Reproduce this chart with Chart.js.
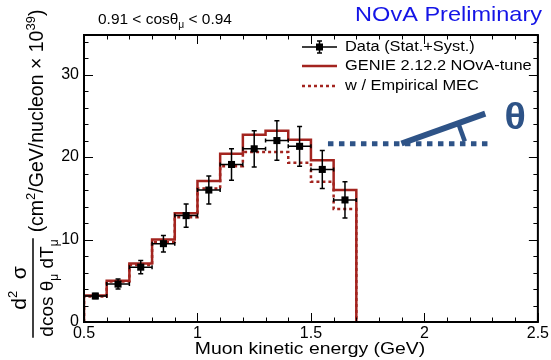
<!DOCTYPE html>
<html><head><meta charset="utf-8">
<script src="https://cdn.jsdelivr.net/npm/chart.js@4.4.0/dist/chart.umd.min.js"></script>
<style>html,body{margin:0;padding:0;background:#fff;}#wrap{width:551px;height:360px;}</style>
</head><body><div id="wrap"><canvas id="c" width="551" height="360"></canvas></div>
<script>
// ---- data ----
const binEdges = [0.5,0.6,0.7,0.8,0.9,1.0,1.1,1.2,1.3,1.4,1.5,1.6,1.7];
const genieValues = [3.2,5.0,7.1,10.0,13.2,17.1,20.4,22.7,23.2,22.1,19.6,16.0];
const mecValues   = [3.1,4.9,6.9,9.7,12.7,16.2,18.9,20.6,20.6,19.3,17.0,13.7];
const dataCenters = [0.55,0.65,0.75,0.85,0.95,1.05,1.15,1.25,1.35,1.45,1.55,1.65];
const dataValues  = [3.15,4.6,6.65,9.5,12.9,16.0,19.1,21.0,22.0,21.3,18.5,14.8];
const dataErrors  = [0.3,0.6,0.8,1.0,1.4,1.7,1.9,2.2,2.4,2.4,2.3,2.2];
const xTickValues = [0.5,1,1.5,2,2.5];
const xTickLabels = ['0.5','1','1.5','2','2.5'];
const yTickValues = [0,10,20,30];
const yTickLabels = ['0','10','20','30'];
// decoration (angle sketch) in data coordinates
const beamLine  = [{x:1.575,y:21.6},{x:2.30,y:21.6}];
const muonLine  = [{x:1.899,y:21.64},{x:2.268,y:25.27}];
const angleMark = [{x:2.149,y:24.1},{x:2.178,y:21.9}];
const thetaPos  = {x:2.40,y:24.6};

const RED = '#a3241f', BLUE = '#2e5387';
const FONT = "'Liberation Sans', Arial, Helvetica, sans-serif";
const SX = 1.17; // horizontal stretch of text in the reference

function histPoints(vals){
  const pts=[{x:binEdges[0],y:0}];
  vals.forEach((v,i)=>pts.push({x:binEdges[i],y:v}));
  pts.push({x:binEdges[binEdges.length-1],y:0});
  return pts;
}
const halfWidth = (binEdges[1]-binEdges[0])/2;

function rotText(ctx, parts, startY, baseX){
  ctx.save(); ctx.translate(baseX,startY); ctx.rotate(-Math.PI/2);
  let u=0;
  for(const p of parts){ ctx.font=p.font; ctx.fillText(p.t,u,p.dy||0); u+=ctx.measureText(p.t).width; }
  ctx.restore(); return u;
}
function measureParts(ctx, parts){ let w=0; for(const p of parts){ctx.font=p.font; w+=ctx.measureText(p.t).width;} return w; }
function hText(ctx, parts, x, y, sx, align){
  const w = measureParts(ctx,parts)*sx;
  let x0 = align==='center'? x-w/2 : align==='right'? x-w : x;
  ctx.save(); ctx.translate(x0,y); ctx.scale(sx,1); ctx.textAlign='left';
  let u=0; for(const p of parts){ ctx.font=p.font; ctx.fillText(p.t,u,(p.dy||0)); u+=ctx.measureText(p.t).width; }
  ctx.restore();
}

const ink = {
  id:'ink',
  beforeDatasetDraw(chart,args){
    if(args.index!==0) return;
    const {ctx, scales:{x,y}}=chart;
    ctx.save(); ctx.strokeStyle='#000'; ctx.lineWidth=1.5;
    dataCenters.forEach((c,i)=>{
      const px=x.getPixelForValue(c), py=y.getPixelForValue(dataValues[i]);
      const xl=x.getPixelForValue(c-halfWidth), xr=x.getPixelForValue(c+halfWidth);
      const yt=y.getPixelForValue(dataValues[i]+dataErrors[i]), yb=y.getPixelForValue(dataValues[i]-dataErrors[i]);
      ctx.beginPath();
      ctx.moveTo(xl,py); ctx.lineTo(xr,py);
      ctx.moveTo(xl,py-2); ctx.lineTo(xl,py+2);
      ctx.moveTo(xr,py-2); ctx.lineTo(xr,py+2);
      ctx.moveTo(px,yt); ctx.lineTo(px,yb);
      ctx.moveTo(px-2.5,yt); ctx.lineTo(px+2.5,yt);
      ctx.moveTo(px-2.5,yb); ctx.lineTo(px+2.5,yb);
      ctx.stroke();
    });
    ctx.restore();
  },
  afterDraw(chart){
    const {ctx, chartArea:a, scales:{x,y}}=chart;
    ctx.save();
    ctx.strokeStyle='#000'; ctx.lineWidth=2;
    ctx.strokeRect(a.left,a.top,a.right-a.left,a.bottom-a.top);
    ctx.lineWidth=1;
    ctx.beginPath();
    for(let v=0.5; v<=2.5001; v+=0.1){
      const px=Math.round(x.getPixelForValue(v))+0.5;
      const major = Math.abs(v*2-Math.round(v*2))<1e-6;
      const L = major?9:4.5;
      ctx.moveTo(px,a.bottom); ctx.lineTo(px,a.bottom-L);
      ctx.moveTo(px,a.top); ctx.lineTo(px,a.top+L);
    }
    for(let v=0; v<=34; v+=2){
      const py=Math.round(y.getPixelForValue(v))+0.5;
      const L = (v%10===0)?9:4.5;
      ctx.moveTo(a.left,py); ctx.lineTo(a.left+L,py);
      ctx.moveTo(a.right,py); ctx.lineTo(a.right-L,py);
    }
    ctx.stroke();
    ctx.fillStyle=BLUE; ctx.textBaseline='middle';
    hText(ctx,[{t:'θ',font:'bold 36px '+FONT}], x.getPixelForValue(thetaPos.x), y.getPixelForValue(thetaPos.y), 1.1, 'center');
    ctx.textBaseline='alphabetic';
    ctx.fillStyle='#000';
    hText(ctx,[{t:'0.91 < cos',font:'15px '+FONT},{t:'θ',font:'15px '+FONT},{t:'μ',font:'10px '+FONT,dy:4},{t:' < 0.94',font:'15px '+FONT}],98,24,1.03,'left');
    ctx.fillStyle='#1414e6';
    hText(ctx,[{t:'NOvA Preliminary',font:'21px '+FONT}],542,21,1.12,'right');
    ctx.fillStyle='#000';
    hText(ctx,[{t:'Muon kinetic energy (GeV)',font:'17px '+FONT}],310,354,1.14,'center');
    const num=[{t:'d',font:'21px '+FONT},{t:'2',font:'13px '+FONT,dy:-9},{t:'  σ',font:'21px '+FONT}];
    const den=[{t:'dcos θ',font:'19px '+FONT},{t:'μ',font:'12px '+FONT,dy:5},{t:' dT',font:'19px '+FONT},{t:'μ',font:'12px '+FONT,dy:5}];
    const cy=288;
    const wn=measureParts(ctx,num), wd=measureParts(ctx,den);
    rotText(ctx,num,cy+wn/2,26);
    rotText(ctx,den,cy+wd/2,53);
    ctx.lineWidth=1.5; ctx.beginPath(); const wf=Math.max(wn,wd)+2;
    ctx.moveTo(33,cy+wf/2); ctx.lineTo(33,cy-wf/2); ctx.stroke();
    const unit=[{t:'(cm',font:'19.5px '+FONT},{t:'2',font:'13px '+FONT,dy:-8},{t:'/GeV/nucleon × 10',font:'19.5px '+FONT},{t:'39',font:'13px '+FONT,dy:-8},{t:')',font:'19.5px '+FONT}];
    rotText(ctx,unit,cy-wf/2-6,43);
    const lx0=302, lx1=337, tx=345;
    ctx.fillStyle='#000'; ctx.textBaseline='middle';
    let ly=47;
    ctx.strokeStyle='#000'; ctx.lineWidth=1.5; ctx.beginPath();
    ctx.moveTo(lx0,ly); ctx.lineTo(lx1,ly);
    ctx.moveTo((lx0+lx1)/2,ly-6); ctx.lineTo((lx0+lx1)/2,ly+6);
    ctx.moveTo((lx0+lx1)/2-2.5,ly-6); ctx.lineTo((lx0+lx1)/2+2.5,ly-6);
    ctx.moveTo((lx0+lx1)/2-2.5,ly+6); ctx.lineTo((lx0+lx1)/2+2.5,ly+6);
    ctx.stroke();
    ctx.fillRect((lx0+lx1)/2-3.5,ly-3.5,7,7);
    hText(ctx,[{t:'Data (Stat.+Syst.)',font:'14px '+FONT}],tx,ly,SX,'left');
    ly=66;
    ctx.strokeStyle=RED; ctx.lineWidth=2.5; ctx.beginPath(); ctx.moveTo(lx0,ly); ctx.lineTo(lx1,ly); ctx.stroke();
    hText(ctx,[{t:'GENIE 2.12.2 NOvA-tune',font:'14px '+FONT}],tx,ly,SX,'left');
    ly=86;
    ctx.setLineDash([3,3]); ctx.beginPath(); ctx.moveTo(lx0,ly); ctx.lineTo(lx1,ly); ctx.stroke(); ctx.setLineDash([]);
    hText(ctx,[{t:'w / Empirical MEC',font:'14px '+FONT}],tx,ly,SX,'left');
    ctx.restore();
  }
};

new Chart(document.getElementById('c'),{
  type:'scatter',
  data:{datasets:[
    {label:'Data (Stat.+Syst.)', data:dataCenters.map((c,i)=>({x:c,y:dataValues[i]})), showLine:false,
     pointStyle:'rect', radius:5, backgroundColor:'#000', borderColor:'#000', borderWidth:0, order:0},
    {label:'GENIE 2.12.2 NOvA-tune', type:'line', data:histPoints(genieValues), stepped:true, showLine:true,
     borderColor:RED, borderWidth:2.5, pointRadius:0, fill:false, order:1},
    {label:'w / Empirical MEC', type:'line', data:histPoints(mecValues), stepped:true, showLine:true,
     borderColor:RED, borderWidth:2.5, borderDash:[3,3], pointRadius:0, fill:false, order:2},
    {label:'beam', type:'line', data:beamLine, showLine:true, borderColor:BLUE, borderWidth:5, borderDash:[5.5,5.5],
     borderCapStyle:'butt', pointRadius:0, order:3},
    {label:'muon', type:'line', data:muonLine, showLine:true, borderColor:BLUE, borderWidth:6, pointRadius:0, order:3},
    {label:'angle', type:'line', data:angleMark, showLine:true, borderColor:BLUE, borderWidth:4.5, pointRadius:0, order:3}
  ]},
  options:{
    responsive:false, animation:false, devicePixelRatio:1,
    layout:{padding:{top:35,right:11,left:0,bottom:0}},
    plugins:{legend:{display:false},tooltip:{enabled:false}},
    scales:{
      x:{type:'linear',min:0.5,max:2.5,
        afterBuildTicks:s=>{s.ticks=xTickValues.map(v=>({value:v}));},
        afterFit:s=>{s.height=38;},
        grid:{display:false,drawTicks:false}, border:{display:false},
        ticks:{callback:(v)=>xTickLabels[xTickValues.indexOf(v)], color:'#000', font:{family:FONT,size:16}, padding:2, maxRotation:0, autoSkip:false}},
      y:{type:'linear',min:0,max:34.8,
        afterBuildTicks:s=>{s.ticks=yTickValues.map(v=>({value:v}));},
        afterFit:s=>{s.width=84;},
        grid:{display:false,drawTicks:false}, border:{display:false},
        ticks:{callback:(v)=>yTickLabels[yTickValues.indexOf(v)], color:'#000', font:{family:FONT,size:16}, padding:5, autoSkip:false}}
    }
  },
  plugins:[ink]
});
</script></body></html>
